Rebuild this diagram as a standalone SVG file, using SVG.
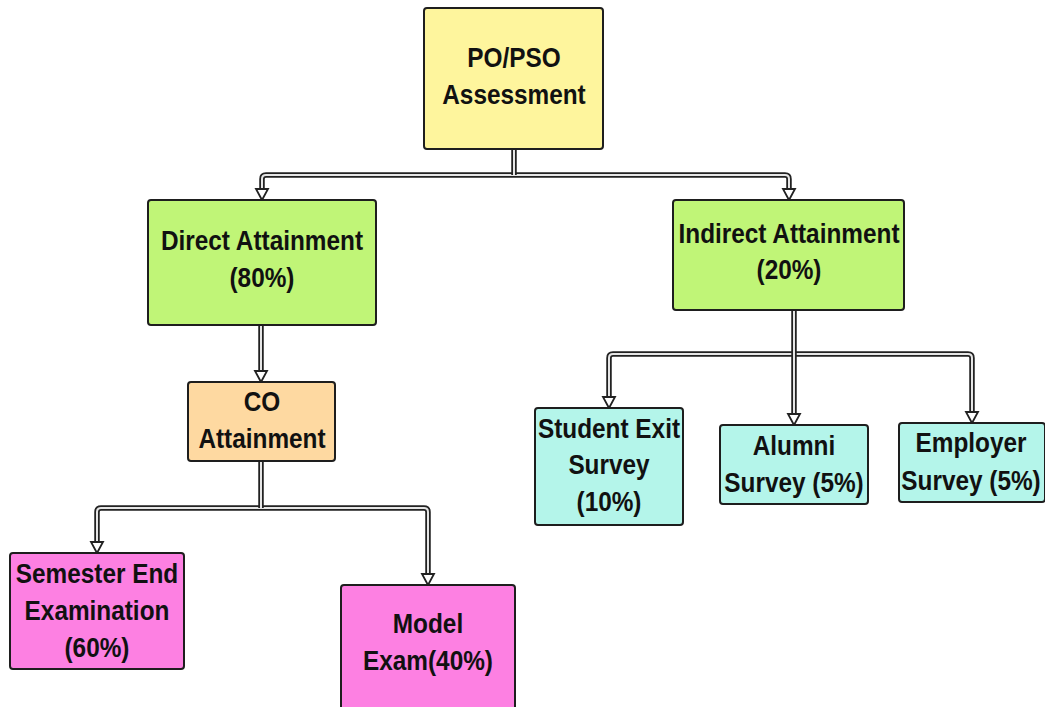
<svg xmlns="http://www.w3.org/2000/svg" width="1045" height="707" viewBox="0 0 1045 707">
<style>
.box{stroke:#1e1e1e;stroke-width:2}
.yel{fill:#fef59d}
.grn{fill:#c0f577}
.org{fill:#fed9a1}
.cyn{fill:#b4f5ea}
.pnk{fill:#fd80e2}
text{font-family:"Liberation Sans Narrow","Arial Narrow","Liberation Sans",sans-serif;font-weight:bold;font-size:28px;fill:#111;text-anchor:middle}
.outer{fill:none;stroke:#222;stroke-width:5.5}
.inner{fill:none;stroke:#e6e6e6;stroke-width:2}
.arr{fill:#fff;stroke:#222;stroke-width:1.8;stroke-linejoin:miter}
</style>
<defs>
<path id="p1" d="M262,190 V179 Q262,175 266,175 H785 Q789,175 789,179 V190"/>
<path id="p2" d="M514,149 V175"/>
<path id="p3" d="M261,325 V372"/>
<path id="p4" d="M97,543 V512 Q97,508 101,508 H424 Q428,508 428,512 V575"/>
<path id="p5" d="M261,461 V508"/>
<path id="p6" d="M609,398 V358 Q609,354 613,354 H968 Q972,354 972,358 V413"/>
<path id="p7" d="M794,310 V415"/>
</defs>
<g id="connectors">
<use href="#p1" class="outer"/><use href="#p1" class="inner"/>
<use href="#p2" class="outer"/><use href="#p2" class="inner"/>
<use href="#p3" class="outer"/><use href="#p3" class="inner"/>
<use href="#p4" class="outer"/><use href="#p4" class="inner"/>
<use href="#p5" class="outer"/><use href="#p5" class="inner"/>
<use href="#p6" class="outer"/><use href="#p6" class="inner"/>
<use href="#p7" class="outer"/><use href="#p7" class="inner"/>
<polygon class="arr" points="256,189 268,189 262,200"/>
<polygon class="arr" points="783,189 795,189 789,200"/>
<polygon class="arr" points="255,371 267,371 261,382"/>
<polygon class="arr" points="91,542 103,542 97,553"/>
<polygon class="arr" points="422,574 434,574 428,585"/>
<polygon class="arr" points="603,397 615,397 609,408"/>
<polygon class="arr" points="788,414 800,414 794,425"/>
<polygon class="arr" points="966,412 978,412 972,423"/>
</g>
<g id="po">
<rect class="box yel" x="424" y="8" width="179" height="141" rx="3"/>
<g transform="matrix(0.87 0 0 1 66.82 0)">
<text x="514" y="67">PO/PSO</text>
<text x="514" y="104">Assessment</text>
</g>
</g>
<g id="direct">
<rect class="box grn" x="148" y="200" width="228" height="125" rx="3"/>
<g transform="matrix(0.87 0 0 1 34.06 0)">
<text x="262" y="250">Direct Attainment</text>
<text x="262" y="287">(80%)</text>
</g>
</g>
<g id="indirect">
<rect class="box grn" x="673" y="200" width="231" height="110" rx="3"/>
<g transform="matrix(0.87 0 0 1 102.57 0)">
<text x="789" y="243">Indirect Attainment</text>
<text x="789" y="279">(20%)</text>
</g>
</g>
<g id="co">
<rect class="box org" x="188" y="382" width="147" height="79" rx="3"/>
<g transform="matrix(0.87 0 0 1 34.06 0)">
<text x="262" y="411">CO</text>
<text x="262" y="448">Attainment</text>
</g>
</g>
<g id="student">
<rect class="box cyn" x="535" y="408" width="148" height="117" rx="3"/>
<g transform="matrix(0.87 0 0 1 79.17 0)">
<text x="609" y="438">Student Exit</text>
<text x="609" y="474">Survey</text>
<text x="609" y="511">(10%)</text>
</g>
</g>
<g id="alumni">
<rect class="box cyn" x="720" y="425" width="148" height="79" rx="3"/>
<g transform="matrix(0.87 0 0 1 103.22 0)">
<text x="794" y="455">Alumni</text>
<text x="794" y="492">Survey (5%)</text>
</g>
</g>
<g id="employer">
<rect class="box cyn" x="899" y="423" width="146" height="79" rx="3"/>
<g transform="matrix(0.87 0 0 1 126.23 0)">
<text x="971" y="452">Employer</text>
<text x="971" y="490">Survey (5%)</text>
</g>
</g>
<g id="semester">
<rect class="box pnk" x="10" y="553" width="174" height="116" rx="3"/>
<g transform="matrix(0.87 0 0 1 12.61 0)">
<text x="97" y="583">Semester End</text>
<text x="97" y="620">Examination</text>
<text x="97" y="657">(60%)</text>
</g>
</g>
<g id="model">
<rect class="box pnk" x="341" y="585" width="174" height="130" rx="3"/>
<g transform="matrix(0.87 0 0 1 55.64 0)">
<text x="428" y="633">Model</text>
<text x="428" y="670">Exam(40%)</text>
</g>
</g>
</svg>
